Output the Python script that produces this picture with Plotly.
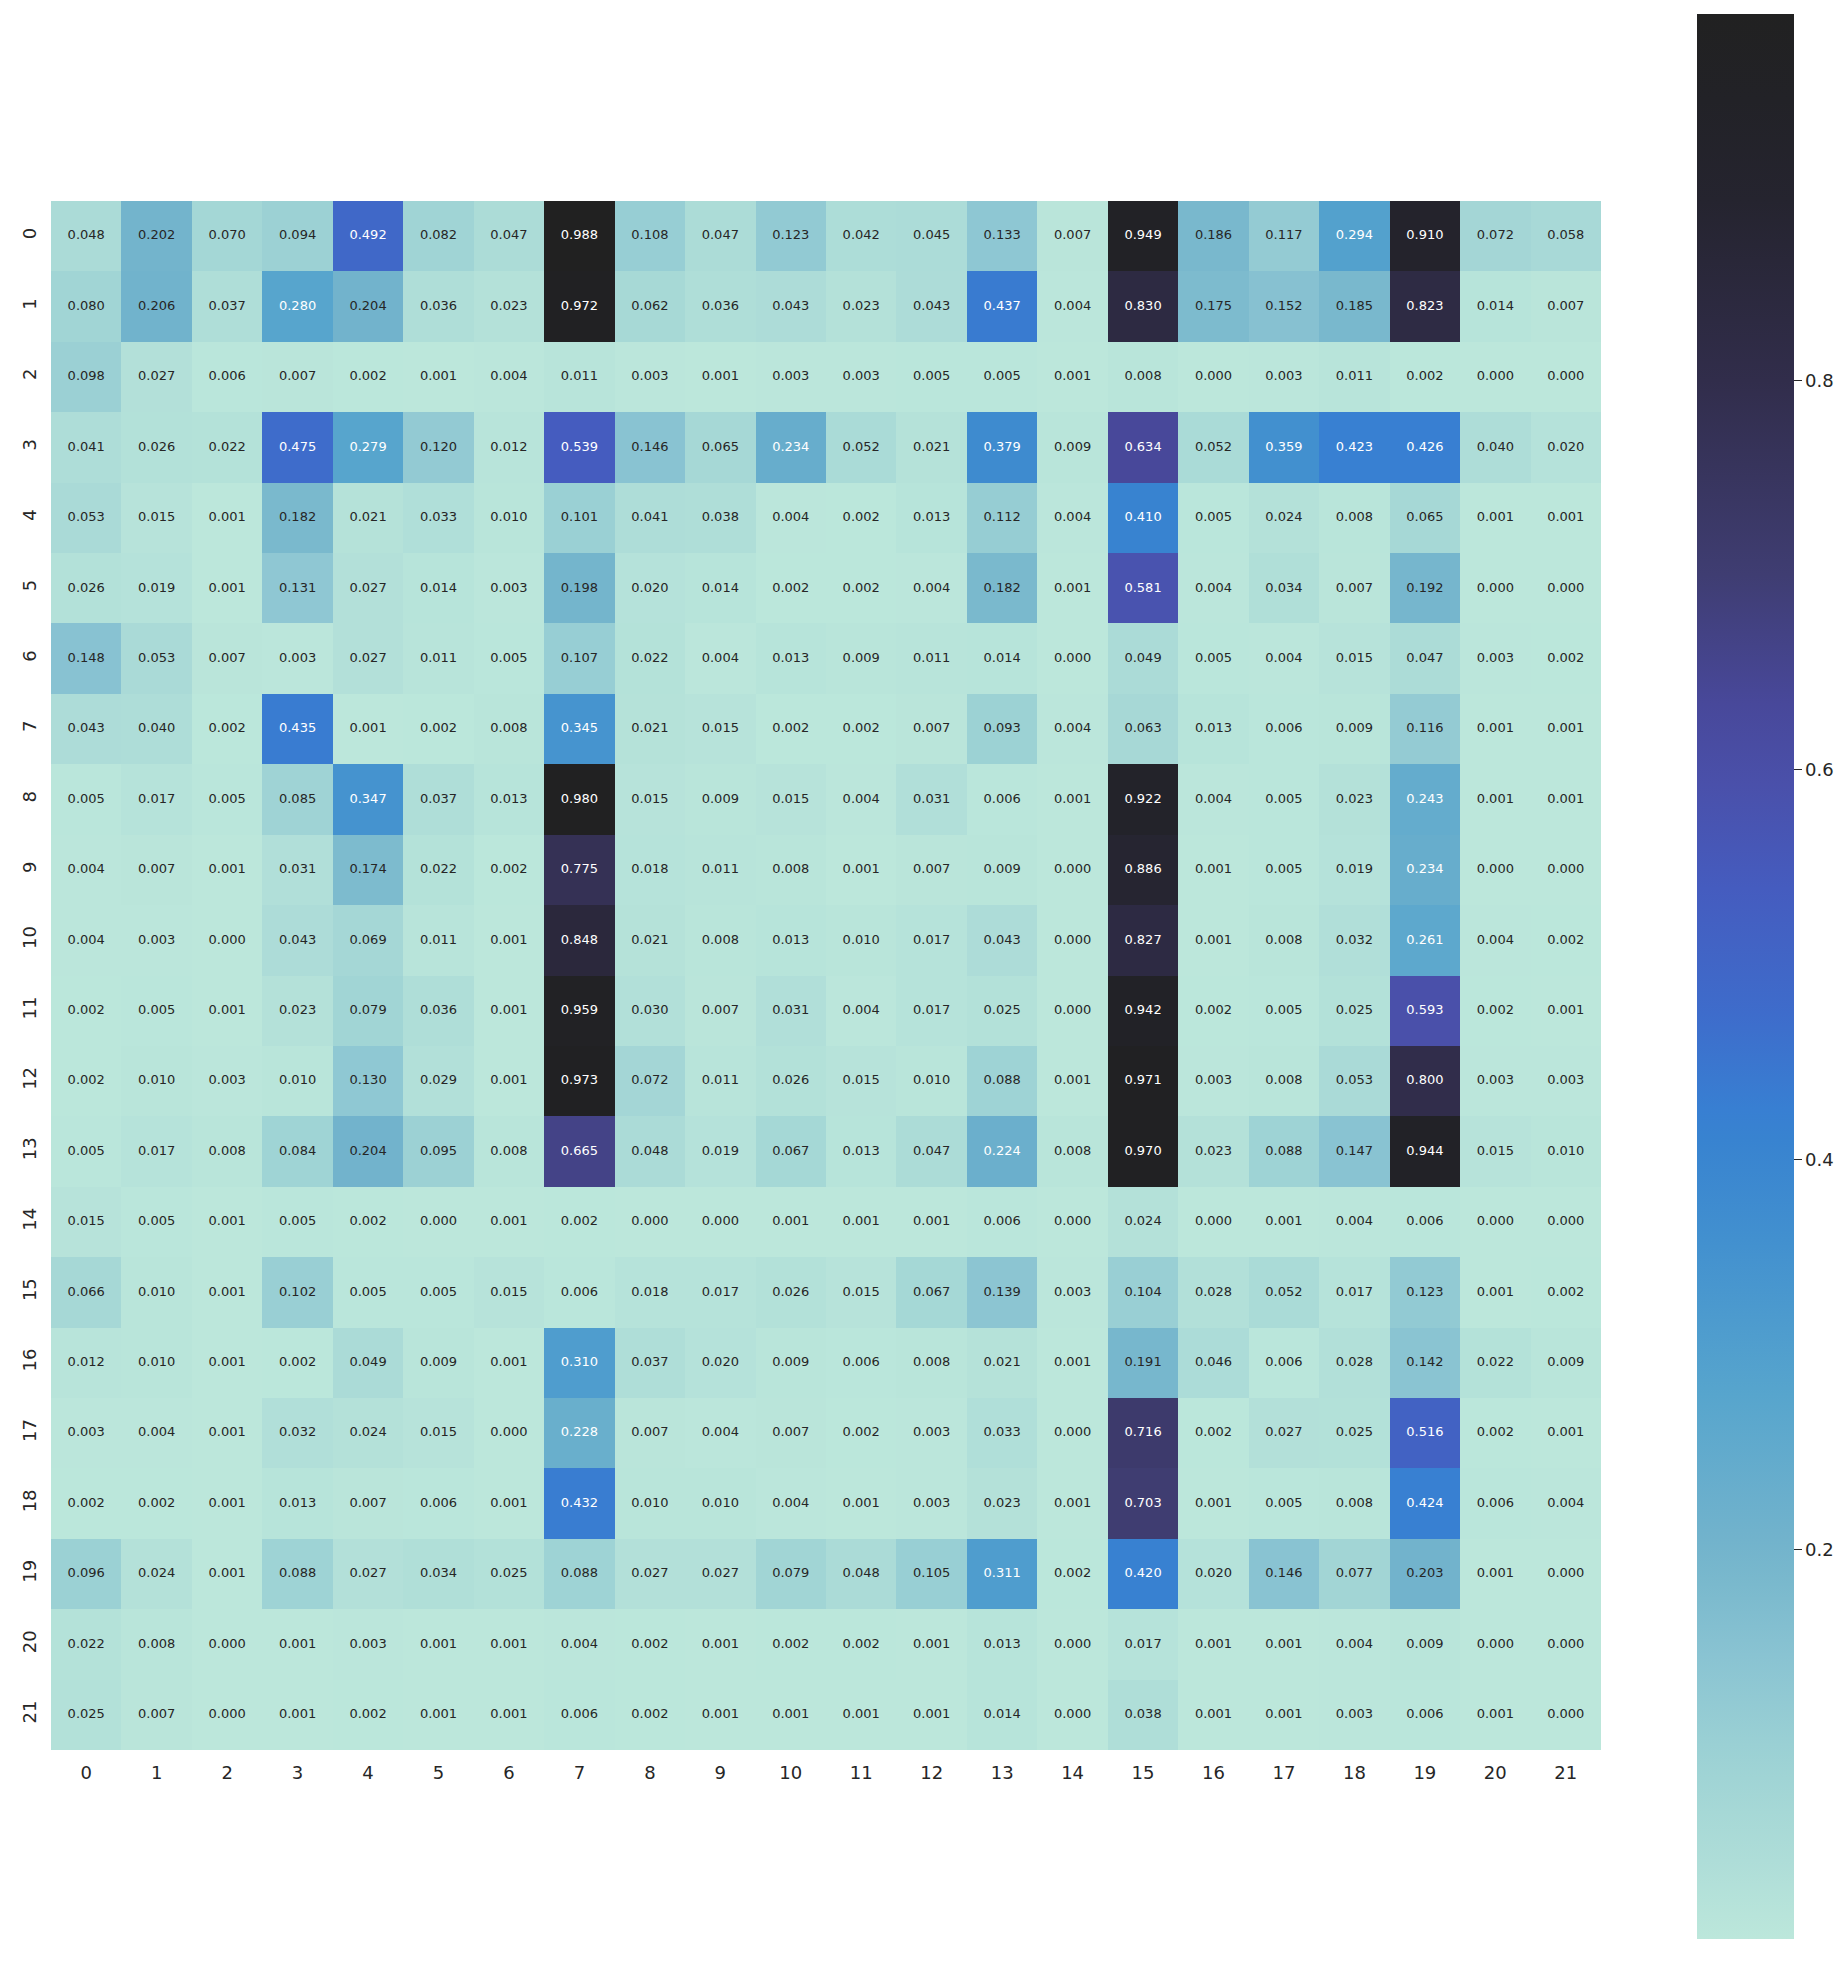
import plotly.graph_objects as go

# 22x22 matrix, one list per row (row index = y label, column index = x label)
row_00 = [0.048, 0.202, 0.070, 0.094, 0.492, 0.082, 0.047, 0.988, 0.108, 0.047, 0.123, 0.042, 0.045, 0.133, 0.007, 0.949, 0.186, 0.117, 0.294, 0.910, 0.072, 0.058]
row_01 = [0.080, 0.206, 0.037, 0.280, 0.204, 0.036, 0.023, 0.972, 0.062, 0.036, 0.043, 0.023, 0.043, 0.437, 0.004, 0.830, 0.175, 0.152, 0.185, 0.823, 0.014, 0.007]
row_02 = [0.098, 0.027, 0.006, 0.007, 0.002, 0.001, 0.004, 0.011, 0.003, 0.001, 0.003, 0.003, 0.005, 0.005, 0.001, 0.008, 0.000, 0.003, 0.011, 0.002, 0.000, 0.000]
row_03 = [0.041, 0.026, 0.022, 0.475, 0.279, 0.120, 0.012, 0.539, 0.146, 0.065, 0.234, 0.052, 0.021, 0.379, 0.009, 0.634, 0.052, 0.359, 0.423, 0.426, 0.040, 0.020]
row_04 = [0.053, 0.015, 0.001, 0.182, 0.021, 0.033, 0.010, 0.101, 0.041, 0.038, 0.004, 0.002, 0.013, 0.112, 0.004, 0.410, 0.005, 0.024, 0.008, 0.065, 0.001, 0.001]
row_05 = [0.026, 0.019, 0.001, 0.131, 0.027, 0.014, 0.003, 0.198, 0.020, 0.014, 0.002, 0.002, 0.004, 0.182, 0.001, 0.581, 0.004, 0.034, 0.007, 0.192, 0.000, 0.000]
row_06 = [0.148, 0.053, 0.007, 0.003, 0.027, 0.011, 0.005, 0.107, 0.022, 0.004, 0.013, 0.009, 0.011, 0.014, 0.000, 0.049, 0.005, 0.004, 0.015, 0.047, 0.003, 0.002]
row_07 = [0.043, 0.040, 0.002, 0.435, 0.001, 0.002, 0.008, 0.345, 0.021, 0.015, 0.002, 0.002, 0.007, 0.093, 0.004, 0.063, 0.013, 0.006, 0.009, 0.116, 0.001, 0.001]
row_08 = [0.005, 0.017, 0.005, 0.085, 0.347, 0.037, 0.013, 0.980, 0.015, 0.009, 0.015, 0.004, 0.031, 0.006, 0.001, 0.922, 0.004, 0.005, 0.023, 0.243, 0.001, 0.001]
row_09 = [0.004, 0.007, 0.001, 0.031, 0.174, 0.022, 0.002, 0.775, 0.018, 0.011, 0.008, 0.001, 0.007, 0.009, 0.000, 0.886, 0.001, 0.005, 0.019, 0.234, 0.000, 0.000]
row_10 = [0.004, 0.003, 0.000, 0.043, 0.069, 0.011, 0.001, 0.848, 0.021, 0.008, 0.013, 0.010, 0.017, 0.043, 0.000, 0.827, 0.001, 0.008, 0.032, 0.261, 0.004, 0.002]
row_11 = [0.002, 0.005, 0.001, 0.023, 0.079, 0.036, 0.001, 0.959, 0.030, 0.007, 0.031, 0.004, 0.017, 0.025, 0.000, 0.942, 0.002, 0.005, 0.025, 0.593, 0.002, 0.001]
row_12 = [0.002, 0.010, 0.003, 0.010, 0.130, 0.029, 0.001, 0.973, 0.072, 0.011, 0.026, 0.015, 0.010, 0.088, 0.001, 0.971, 0.003, 0.008, 0.053, 0.800, 0.003, 0.003]
row_13 = [0.005, 0.017, 0.008, 0.084, 0.204, 0.095, 0.008, 0.665, 0.048, 0.019, 0.067, 0.013, 0.047, 0.224, 0.008, 0.970, 0.023, 0.088, 0.147, 0.944, 0.015, 0.010]
row_14 = [0.015, 0.005, 0.001, 0.005, 0.002, 0.000, 0.001, 0.002, 0.000, 0.000, 0.001, 0.001, 0.001, 0.006, 0.000, 0.024, 0.000, 0.001, 0.004, 0.006, 0.000, 0.000]
row_15 = [0.066, 0.010, 0.001, 0.102, 0.005, 0.005, 0.015, 0.006, 0.018, 0.017, 0.026, 0.015, 0.067, 0.139, 0.003, 0.104, 0.028, 0.052, 0.017, 0.123, 0.001, 0.002]
row_16 = [0.012, 0.010, 0.001, 0.002, 0.049, 0.009, 0.001, 0.310, 0.037, 0.020, 0.009, 0.006, 0.008, 0.021, 0.001, 0.191, 0.046, 0.006, 0.028, 0.142, 0.022, 0.009]
row_17 = [0.003, 0.004, 0.001, 0.032, 0.024, 0.015, 0.000, 0.228, 0.007, 0.004, 0.007, 0.002, 0.003, 0.033, 0.000, 0.716, 0.002, 0.027, 0.025, 0.516, 0.002, 0.001]
row_18 = [0.002, 0.002, 0.001, 0.013, 0.007, 0.006, 0.001, 0.432, 0.010, 0.010, 0.004, 0.001, 0.003, 0.023, 0.001, 0.703, 0.001, 0.005, 0.008, 0.424, 0.006, 0.004]
row_19 = [0.096, 0.024, 0.001, 0.088, 0.027, 0.034, 0.025, 0.088, 0.027, 0.027, 0.079, 0.048, 0.105, 0.311, 0.002, 0.420, 0.020, 0.146, 0.077, 0.203, 0.001, 0.000]
row_20 = [0.022, 0.008, 0.000, 0.001, 0.003, 0.001, 0.001, 0.004, 0.002, 0.001, 0.002, 0.002, 0.001, 0.013, 0.000, 0.017, 0.001, 0.001, 0.004, 0.009, 0.000, 0.000]
row_21 = [0.025, 0.007, 0.000, 0.001, 0.002, 0.001, 0.001, 0.006, 0.002, 0.001, 0.001, 0.001, 0.001, 0.014, 0.000, 0.038, 0.001, 0.001, 0.003, 0.006, 0.001, 0.000]

rows = [row_00, row_01, row_02, row_03, row_04, row_05, row_06, row_07, row_08, row_09, row_10,
        row_11, row_12, row_13, row_14, row_15, row_16, row_17, row_18, row_19, row_20, row_21]
labels = list(range(22))
colorbar_ticks = [0.2, 0.4, 0.6, 0.8]

VMIN, VMAX = 0.0, 0.988
INK = "#262626"
FONT = "DejaVu Sans"
WHITE_TEXT_FROM = 0.21  # annotations switch to white on cells darker than this

# lower half of an "icefire"-like ramp, sampled against the value range
ramp_values = [0.000, 0.040, 0.065, 0.100, 0.146, 0.182, 0.204, 0.279, 0.359, 0.410,
               0.426, 0.475, 0.539, 0.593, 0.634, 0.700, 0.800, 0.892, 0.944, 0.988]
ramp_colors = ["#bce7db", "#aeddd8", "#a6d8d6", "#9ad0d4", "#89c3d2", "#7ab9cd", "#72b3cc",
               "#57a5cd", "#4290cf", "#3883d0", "#387fd2", "#3e6ccb", "#455cbf", "#4a50aa",
               "#48489a", "#3f3d72", "#312d4b", "#25242f", "#222227", "#212121"]
colorscale = [[(v - VMIN) / (VMAX - VMIN), c] for v, c in zip(ramp_values, ramp_colors)]

# annotation points
tx, ty, tt, tc = [], [], [], []
for r, row in enumerate(rows):
    for c, v in enumerate(row):
        tx.append(c)
        ty.append(r)
        tt.append(f"{v:.3f}")
        tc.append("white" if v >= WHITE_TEXT_FROM else INK)

fig = go.Figure()
fig.add_heatmap(
    z=rows,
    x=labels,
    y=labels,
    zmin=VMIN,
    zmax=VMAX,
    colorscale=colorscale,
    hoverinfo="skip",
    colorbar=dict(
        thickness=97,
        lenmode="pixels",
        len=1925,
        x=1.0619,
        xanchor="left",
        y=-0.122,
        yanchor="bottom",
        xpad=0,
        ypad=0,
        outlinewidth=0,
        tickvals=colorbar_ticks,
        tickprefix="\u00a0",
        ticks="outside",
        ticklen=8,
        tickwidth=1.3,
        tickcolor=INK,
        tickfont=dict(family=FONT, size=18, color=INK),
    ),
)
fig.add_scatter(
    x=tx,
    y=ty,
    mode="text",
    text=tt,
    textfont=dict(family=FONT, size=13, color=tc),
    hoverinfo="skip",
    showlegend=False,
)

# page body has an 8px default margin, so pull the plot area up/left by that
fig.update_layout(
    width=1848,
    height=1965,
    margin=dict(l=43, r=255, t=193, b=223),
    paper_bgcolor="white",
    plot_bgcolor="white",
    font=dict(family=FONT, color=INK, size=18),
    showlegend=False,
)
fig.update_xaxes(
    range=[-0.5, 21.5],
    tickvals=labels,
    ticks="",
    showgrid=False,
    zeroline=False,
    showline=False,
    ticklabelstandoff=10,
    tickfont=dict(family=FONT, size=18, color=INK),
)
fig.update_yaxes(
    range=[21.5, -0.5],
    tickvals=labels,
    tickangle=-90,
    ticks="",
    showgrid=False,
    zeroline=False,
    showline=False,
    ticklabelstandoff=10,
    tickfont=dict(family=FONT, size=18, color=INK),
)

fig.write_html("out.html")
